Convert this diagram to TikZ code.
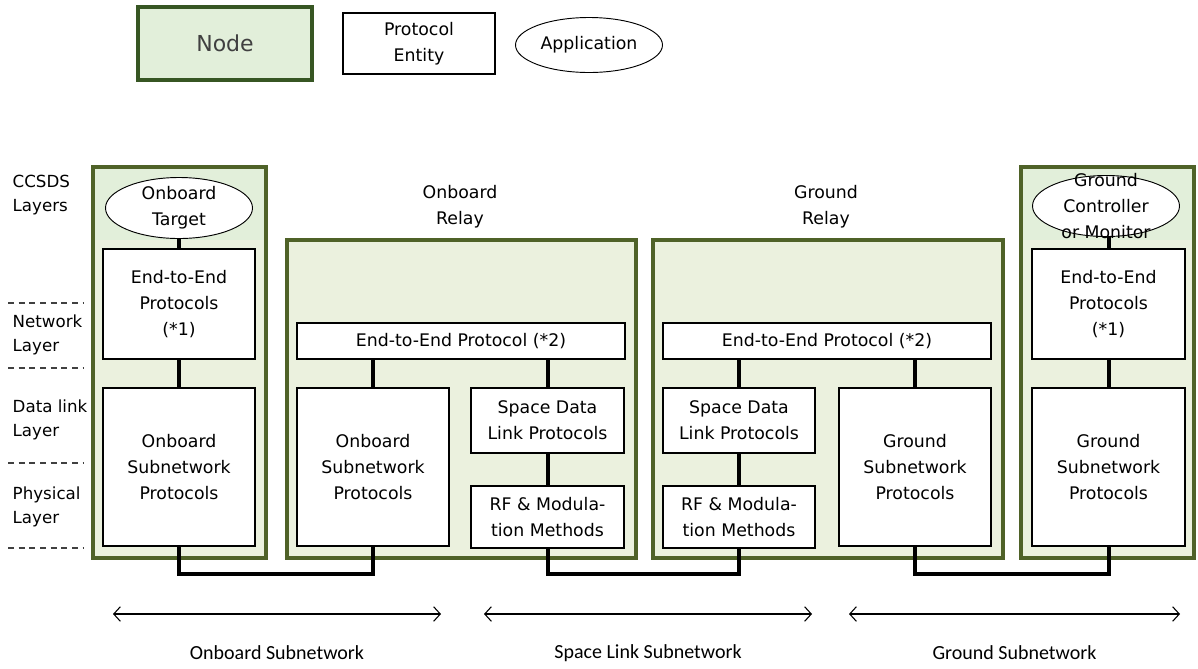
\documentclass[tikz,border=0pt]{standalone}
\usepackage{fontspec}
\setmainfont{DejaVu Sans}
\newfontfamily\spanfont{Carlito}
\usetikzlibrary{shapes.geometric,arrows.meta}

\definecolor{nodeGreen}{HTML}{E2EFDA}
\definecolor{relayGreen}{HTML}{EBF1DE}
\definecolor{frameGreen}{HTML}{4F6228}
\definecolor{legendGreen}{HTML}{375623}

\tikzset{
    boxsize/.style 2 args={minimum width=#1*0.75pt, minimum height=#2*0.75pt},
    entity/.style={draw=black, fill=white, line width=0.9pt, inner sep=0pt, align=center, font=\fontsize{13}{19.5}\selectfont},
    app/.style={ellipse, draw=black, fill=white, line width=0.7pt, inner sep=0pt},
    apptext/.style={align=center, font=\fontsize{13}{19.5}\selectfont},
    nodeframe/.style={draw=frameGreen, fill=relayGreen, line width=2.4pt, inner sep=0pt},
    link/.style={line width=3pt},
    layer/.style={anchor=west, align=left, font=\fontsize{12.5}{18}\selectfont},
    layerline/.style={dash pattern=on 4.5pt off 3.5pt, line width=1pt, black!75},
}

\begin{document}
\begin{tikzpicture}[x=0.75pt,y=-0.75pt]
        \useasboundingbox (0,0) rectangle (1198,668);
        \def\busY{574}
        \def\spanY{614}

        % Legend
        \node[draw=legendGreen, fill=nodeGreen, line width=2.4pt, inner sep=0pt, text=black!75, font=\fontsize{16.5}{20}\selectfont, boxsize={174}{73}] (legNode) at (225,43.5) {Node};
        \node[entity, boxsize={152}{61}] (legEntity) at (419,43.5) {Protocol\\Entity};
        \node[app, font=\fontsize{13}{19.5}\selectfont, boxsize={147}{55}] (legApp) at (589,45) {Application};

        % Nodes
        \node[nodeframe, boxsize={173}{391}] (endL) at (179.5,362.5) {};
        \node[nodeframe, boxsize={349}{318}] (relayO) at (461.5,399) {};
        \node[nodeframe, boxsize={350}{318}] (relayG) at (828,399) {};
        \node[nodeframe, boxsize={173}{391}] (endR) at (1107.5,362.5) {};
        \fill[nodeGreen] (95,169) rectangle (264,240);
        \fill[nodeGreen] (1023,169) rectangle (1192,240);

        \node[apptext] (titleO) at (460,207) {Onboard\\Relay};
        \node[apptext] (titleG) at (826,207) {Ground\\Relay};

        % Layers
        \foreach \yPos/\txt [count=\i] in {195/CCSDS\\Layers, 335/Network\\Layer, 420/Data link\\Layer, 507/Physical\\Layer} {
                \node[layer] (layer\i) at (8,\yPos) {\txt};
            }
        \foreach \yPos [count=\i] in {303,368,463,548} {
                \coordinate (dashA\i) at (8,\yPos);
                \coordinate (dashB\i) at (83,\yPos);
                \draw[layerline] (dashA\i) -- (dashB\i);
            }

        % Onboard end
        \node[app, boxsize={147}{61}] (tgtL) at (179,208) {};
        \node[apptext] (tgtLText) at (tgtL) {Onboard\\Target};
        \node[entity, boxsize={152}{110}] (e2eL) at (179,304) {End-to-End\\Protocols\\(*1)};
        \node[entity, boxsize={152}{158}] (ospL) at (179,467) {Onboard\\Subnetwork\\Protocols};

        % Onboard relay
        \node[entity, boxsize={328}{36}] (e2eO) at (461,341) {End-to-End Protocol (*2)};
        \node[entity, boxsize={152}{158}] (ospO) at (373,467) {Onboard\\Subnetwork\\Protocols};
        \node[entity, line width=1.3pt, boxsize={153}{65}] (sdlpO) at (547.5,420.5) {Space Data\\Link Protocols};
        \node[entity, line width=1.3pt, boxsize={153}{62}] (rfO) at (547.5,517) {RF \& Modula-\\tion Methods};

        % Ground relay
        \node[entity, boxsize={328}{36}] (e2eG) at (827,341) {End-to-End Protocol (*2)};
        \node[entity, line width=1.3pt, boxsize={152}{65}] (sdlpG) at (739,420.5) {Space Data\\Link Protocols};
        \node[entity, line width=1.3pt, boxsize={152}{62}] (rfG) at (739,517) {RF \& Modula-\\tion Methods};
        \node[entity, boxsize={152}{158}] (gspG) at (915,467) {Ground\\Subnetwork\\Protocols};

        % Ground end
        \node[app, boxsize={147}{61}] (ctlR) at (1106,206) {};
        \node[apptext] (ctlRText) at (ctlR) {Ground\\Controller\\or Monitor};
        \node[entity, boxsize={153}{110}] (e2eR) at (1108.5,304) {End-to-End\\Protocols\\(*1)};
        \node[entity, boxsize={153}{158}] (gspR) at (1108.5,467) {Ground\\Subnetwork\\Protocols};

        % Stacks
        \draw[link] (tgtL.south) -- (e2eL.north);
        \draw[link] (e2eL) -- (ospL);
        \draw[link] (ospO.north) -- (ospO.north |- e2eO.south);
        \draw[link] (sdlpO.north) -- (sdlpO.north |- e2eO.south);
        \draw[link] (sdlpO) -- (rfO);
        \draw[link] (sdlpG.north) -- (sdlpG.north |- e2eG.south);
        \draw[link] (sdlpG) -- (rfG);
        \draw[link] (gspG.north) -- (gspG.north |- e2eG.south);
        \draw[link] (e2eR.north) -- (e2eR.north |- ctlR.south);
        \draw[link] (e2eR) -- (gspR);

        % Subnetwork links
        \coordinate (bus) at (0,\busY);
        \draw[link] (ospL.south) -- (ospL.south |- bus) -| (ospO.south);
        \draw[link] (rfO.south) -- (rfO.south |- bus) -| (rfG.south);
        \draw[link] (gspG.south) -- (gspG.south |- bus) -| (gspR.south);

        % Spans
        \foreach \xA/\xB/\name [count=\i] in {113/441/Onboard Subnetwork, 484/812/Space Link Subnetwork, 849/1180/Ground Subnetwork} {
                \coordinate (spanA\i) at (\xA,\spanY);
                \coordinate (spanB\i) at (\xB,\spanY);
                \draw[{Straight Barb[length=5pt,width=11pt]}-{Straight Barb[length=5pt,width=11pt]}, line width=0.8pt] (spanA\i) -- (spanB\i);
                \node[font=\spanfont\fontsize{15}{18}\selectfont] (spanLabel\i) at ({(\xA+\xB)/2},653) {\name};
            }
\end{tikzpicture}
\end{document}
